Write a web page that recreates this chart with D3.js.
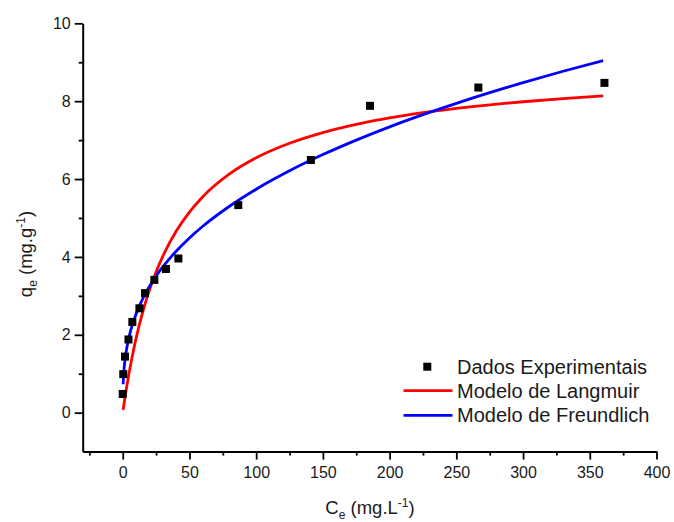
<!DOCTYPE html>
<html>
<head>
<meta charset="utf-8">
<script src="https://cdn.jsdelivr.net/npm/d3@7"></script>
<style>
  html, body { margin: 0; padding: 0; background: #fff; }
  svg { display: block; font-family: "Liberation Sans", Arial, sans-serif; }
</style>
</head>
<body>
<svg id="chart" width="674" height="522"></svg>
<script>
// Experimental equilibrium data: Ce (mg/L) vs qe (mg/g)
const expCe = [0, 0.4, 1.7, 4.3, 7.2, 12.5, 16.7, 23.7, 32.4, 41.7, 86.6, 141, 185.3, 266.5, 361];
const expQe = [0.48, 0.99, 1.44, 1.88, 2.33, 2.68, 3.07, 3.41, 3.69, 3.96, 5.33, 6.49, 7.88, 8.35, 8.47];

// Sampled points along the fitted isotherm curves
const modelCe = [0.3, 0.5, 1, 2, 3, 5, 7, 10, 15, 20, 25, 30, 40, 50, 60, 80, 100, 125, 150, 175, 200, 225, 250, 275, 300, 330, 360];
const langmuirQe = [0.072, 0.120, 0.236, 0.460, 0.672, 1.067, 1.426, 1.907, 2.586, 3.146, 3.615, 4.014, 4.658, 5.153, 5.547, 6.132, 6.546, 6.920, 7.194, 7.404, 7.569, 7.703, 7.813, 7.906, 7.985, 8.065, 8.134];
const freundlichQe = [0.730, 0.875, 1.119, 1.431, 1.653, 1.981, 2.233, 2.534, 2.927, 3.241, 3.508, 3.743, 4.145, 4.487, 4.787, 5.301, 5.739, 6.212, 6.628, 7.000, 7.340, 7.653, 7.945, 8.219, 8.476, 8.768, 9.043];

// Axis ticks
const xMajor = [0, 50, 100, 150, 200, 250, 300, 350, 400];
const xMinor = [-25, 25, 75, 125, 175, 225, 275, 325, 375];
const yMajor = [0, 2, 4, 6, 8, 10];
const yMinor = [1, 3, 5, 7, 9];

// Legend entries
const legendLabels = ["Dados Experimentais", "Modelo de Langmuir", "Modelo de Freundlich"];

const svg = d3.select("#chart");
const x = d3.scaleLinear().domain([-30, 400]).range([82.7, 656.5]);
const y = d3.scaleLinear().domain([-1, 10]).range([451.6, 23.3]);

const textColor = "#1a1a1a";

// Y axis
const gy = svg.append("g").attr("transform", `translate(${x(-30)},0)`);
gy.call(d3.axisLeft(y).tickValues(yMajor).tickSize(8).tickSizeOuter(0).tickPadding(4).tickFormat(d3.format("d")));
gy.append("g").call(d3.axisLeft(y).tickValues(yMinor).tickSize(4).tickSizeOuter(0).tickFormat(""))
  .select(".domain").remove();

// X axis
const gx = svg.append("g").attr("transform", `translate(0,${y(-1)})`);
gx.call(d3.axisBottom(x).tickValues(xMajor).tickSize(8).tickSizeOuter(0).tickPadding(7).tickFormat(d3.format("d")));
gx.append("g").call(d3.axisBottom(x).tickValues(xMinor).tickSize(4).tickSizeOuter(0).tickFormat(""))
  .select(".domain").remove();

svg.selectAll(".domain").attr("stroke", "#000").attr("stroke-width", 2);
svg.selectAll(".tick line").attr("stroke", "#000").attr("stroke-width", 1.8);
svg.selectAll(".tick text").attr("font-size", 16).attr("fill", textColor)
  .attr("font-family", "'Liberation Sans', Arial, sans-serif");

// Axis titles
const xt = svg.append("text").attr("x", 370).attr("y", 514).attr("text-anchor", "middle")
  .attr("font-size", 18.5).attr("fill", textColor);
xt.append("tspan").text("C");
xt.append("tspan").attr("font-size", 12).attr("dy", 5).text("e");
xt.append("tspan").attr("dy", -5).text(" (mg.L");
xt.append("tspan").attr("font-size", 12).attr("dy", -7).text("-1");
xt.append("tspan").attr("dy", 7).text(")");

const yt = svg.append("text").attr("transform", "translate(32,254) rotate(-90)")
  .attr("text-anchor", "middle").attr("font-size", 18.5).attr("fill", textColor);
yt.append("tspan").text("q");
yt.append("tspan").attr("font-size", 12).attr("dy", 5).text("e");
yt.append("tspan").attr("dy", -5).text(" (mg.g");
yt.append("tspan").attr("font-size", 12).attr("dy", -7).text("-1");
yt.append("tspan").attr("dy", 7).text(")");

// Model curves
const line = d3.line().x(d => x(d[0])).y(d => y(d[1])).curve(d3.curveMonotoneX);
svg.append("path").datum(d3.zip(modelCe, langmuirQe))
  .attr("d", line).attr("fill", "none").attr("stroke", "#ff0000").attr("stroke-width", 2.8);
svg.append("path").datum(d3.zip(modelCe, freundlichQe))
  .attr("d", line).attr("fill", "none").attr("stroke", "#0000ff").attr("stroke-width", 2.8);

// Experimental points
const sq = 8;
svg.append("g").selectAll("rect").data(d3.zip(expCe, expQe)).join("rect")
  .attr("x", d => x(d[0]) - sq / 2).attr("y", d => y(d[1]) - sq / 2)
  .attr("width", sq).attr("height", sq).attr("fill", "#000");

// Legend
const lg = svg.append("g");
const rowY = [366.7, 390.6, 415.4];
lg.append("rect").attr("x", 427.3 - 4).attr("y", rowY[0] - 4).attr("width", 8).attr("height", 8).attr("fill", "#000");
lg.append("line").attr("x1", 403.5).attr("x2", 452.5).attr("y1", rowY[1]).attr("y2", rowY[1])
  .attr("stroke", "#ff0000").attr("stroke-width", 2.8);
lg.append("line").attr("x1", 403.5).attr("x2", 452.5).attr("y1", rowY[2]).attr("y2", rowY[2])
  .attr("stroke", "#0000ff").attr("stroke-width", 2.8);
lg.selectAll("text.lab").data(legendLabels).join("text").attr("class", "lab")
  .attr("x", 457).attr("y", (d, i) => rowY[i] + 7)
  .attr("font-size", 20).attr("fill", textColor).text(d => d);
</script>
</body>
</html>
